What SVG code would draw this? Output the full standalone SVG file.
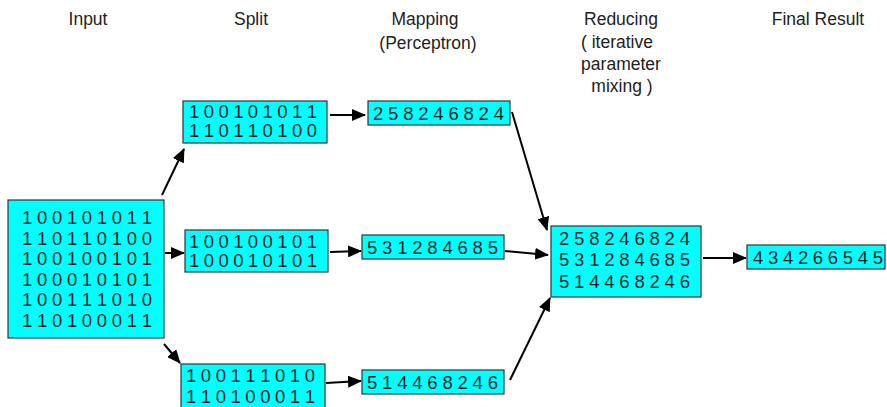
<svg xmlns="http://www.w3.org/2000/svg" width="887" height="407" viewBox="0 0 887 407">
  <style>
    .box { fill: #00ffff; stroke: #333; stroke-width: 1.2; }
    .d { font-family: "Liberation Sans", Arial, sans-serif; font-size: 18.5px; fill: #0d1f1f; }
    .t { font-family: "Liberation Sans", Arial, sans-serif; font-size: 17.5px; fill: #222; text-anchor: middle; }
    .c { stroke: #000; stroke-width: 2; fill: none; marker-end: url(#ah); }
  </style>
  <defs>
    <marker id="ah" markerUnits="userSpaceOnUse" markerWidth="14" markerHeight="12" viewBox="0 0 14 12" refX="13" refY="6" orient="auto">
      <path d="M0,0 L14,6 L0,12 z" fill="#000"/>
    </marker>
  </defs>

  <!-- column headings -->
  <g id="headings">
    <text class="t" x="88" y="25">Input</text>
    <text class="t" x="251" y="25">Split</text>
    <text class="t" x="425" y="25">Mapping</text>
    <text class="t" x="428" y="49">(Perceptron)</text>
    <text class="t" x="621" y="25">Reducing</text>
    <text class="t" x="617" y="48">( iterative</text>
    <text class="t" x="621" y="70">parameter</text>
    <text class="t" x="622" y="92">mixing )</text>
    <text class="t" x="818" y="25">Final Result</text>
  </g>

  <!-- connectors -->
  <g id="connectors">
    <line class="c" x1="162" y1="195" x2="184" y2="149"/>
    <line class="c" x1="165" y1="253" x2="184" y2="253"/>
    <line class="c" x1="164" y1="344" x2="180" y2="363"/>
    <line class="c" x1="330" y1="115" x2="365" y2="115"/>
    <line class="c" x1="330" y1="252" x2="361" y2="251"/>
    <line class="c" x1="326" y1="383" x2="361" y2="381"/>
    <line class="c" x1="512" y1="112" x2="547" y2="230"/>
    <line class="c" x1="505" y1="251" x2="548" y2="255"/>
    <line class="c" x1="510" y1="380" x2="550" y2="298"/>
    <line class="c" x1="703" y1="258" x2="746" y2="258"/>
  </g>

  <g id="input">
    <rect class="box" x="8" y="200" width="156" height="138"/>
    <text class="d" x="22" y="224" textLength="130" lengthAdjust="spacing">1 0 0 1 0 1 0 1 1</text>
    <text class="d" x="22" y="244.6" textLength="130" lengthAdjust="spacing">1 1 0 1 1 0 1 0 0</text>
    <text class="d" x="22" y="265.2" textLength="130" lengthAdjust="spacing">1 0 0 1 0 0 1 0 1</text>
    <text class="d" x="22" y="285.8" textLength="130" lengthAdjust="spacing">1 0 0 0 1 0 1 0 1</text>
    <text class="d" x="22" y="306.4" textLength="130" lengthAdjust="spacing">1 0 0 1 1 1 0 1 0</text>
    <text class="d" x="22" y="327" textLength="130" lengthAdjust="spacing">1 1 0 1 0 0 0 1 1</text>
  </g>

  <g id="split-1">
    <rect class="box" x="183" y="101" width="144" height="42"/>
    <text class="d" x="189" y="118" textLength="128" lengthAdjust="spacing">1 0 0 1 0 1 0 1 1</text>
    <text class="d" x="189" y="137" textLength="128" lengthAdjust="spacing">1 1 0 1 1 0 1 0 0</text>
  </g>
  <g id="split-2">
    <rect class="box" x="185" y="230" width="143" height="42"/>
    <text class="d" x="189" y="248" textLength="128" lengthAdjust="spacing">1 0 0 1 0 0 1 0 1</text>
    <text class="d" x="189" y="267" textLength="128" lengthAdjust="spacing">1 0 0 0 1 0 1 0 1</text>
  </g>
  <g id="split-3">
    <rect class="box" x="181" y="364" width="144" height="50"/>
    <text class="d" x="186" y="382" textLength="129" lengthAdjust="spacing">1 0 0 1 1 1 0 1 0</text>
    <text class="d" x="186" y="403" textLength="129" lengthAdjust="spacing">1 1 0 1 0 0 0 1 1</text>
  </g>

  <g id="map-1">
    <rect class="box" x="368" y="101" width="142" height="24"/>
    <text class="d" x="373" y="119.5" textLength="131" lengthAdjust="spacing">2 5 8 2 4 6 8 2 4</text>
  </g>
  <g id="map-2">
    <rect class="box" x="362" y="235" width="142" height="24"/>
    <text class="d" x="367" y="253.5" textLength="131" lengthAdjust="spacing">5 3 1 2 8 4 6 8 5</text>
  </g>
  <g id="map-3">
    <rect class="box" x="362" y="370" width="142" height="24"/>
    <text class="d" x="367" y="388.5" textLength="131" lengthAdjust="spacing">5 1 4 4 6 8 2 4 6</text>
  </g>

  <g id="reduce">
    <rect class="box" x="551" y="226" width="150" height="71"/>
    <text class="d" x="559" y="244.5" textLength="131" lengthAdjust="spacing">2 5 8 2 4 6 8 2 4</text>
    <text class="d" x="559" y="266" textLength="131" lengthAdjust="spacing">5 3 1 2 8 4 6 8 5</text>
    <text class="d" x="559" y="287.5" textLength="131" lengthAdjust="spacing">5 1 4 4 6 8 2 4 6</text>
  </g>

  <g id="final">
    <rect class="box" x="747" y="245" width="138" height="24"/>
    <text class="d" x="753" y="263.5" textLength="130" lengthAdjust="spacing">4 3 4 2 6 6 5 4 5</text>
  </g>
</svg>
